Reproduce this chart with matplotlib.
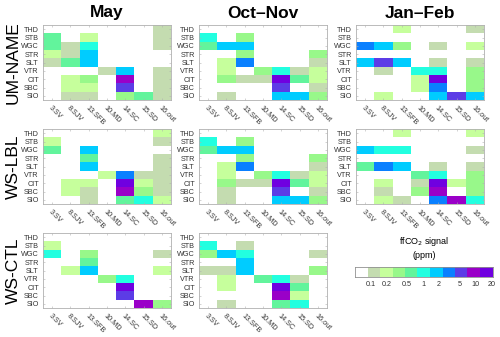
import matplotlib
matplotlib.use('Agg')
import matplotlib.pyplot as plt
import numpy as np
from matplotlib.colors import ListedColormap, BoundaryNorm

plt.rcParams['font.family'] = ['Liberation Sans', 'DejaVu Sans']

# Sites (rows) and regions (columns)
sites = ['THD', 'STB', 'WGC', 'STR', 'SLT', 'VTR', 'CIT', 'SBC', 'SIO']
regions = ['3.SV', '8.SJV', '13.SFB', '10.MD', '14.SC', '15.SD', '16.out']
seasons = ['May', 'Oct\u2013Nov', 'Jan\u2013Feb']
models = ['UM-NAME', 'WS-LBL', 'WS-CTL']

# ffCO2 signal (ppm), estimated from the colour classes
um_may = [[0, 0, 0, 0, 0, 0, .12],
          [.6, 0, .2, 0, 0, 0, .12],
          [.6, .12, 1, 0, 0, 0, .12],
          [.2, .12, 1.8, 0, 0, 0, 0],
          [.12, .6, 1.8, 0, 0, 0, 0],
          [0, 0, 0, .12, 1.8, 0, .12],
          [0, .2, .35, 0, 9, 0, .12],
          [0, .2, .2, 0, 5, 0, .12],
          [0, .12, .12, 0, .35, .6, .12]]
um_oct = [[0, 0, 0, 0, 0, 0, 0],
          [1, 0, .35, 0, 0, 0, 0],
          [.6, 1.8, 1.8, 0, 0, 0, 0],
          [0, 0, .35, 0, 0, 0, .35],
          [0, .2, 3, 0, 0, 0, .12],
          [0, .2, 0, .35, 1, .12, .2],
          [0, .35, .12, .12, 15, .6, .2],
          [0, 0, 0, 0, 5, 0, .12],
          [0, .12, 0, 0, 1.8, 1.8, .35]]
um_jan = [[0, 0, .2, 0, 0, 0, .12],
          [0, 0, 0, 0, 0, 0, 0],
          [3, 1.8, .35, 0, .12, 0, .2],
          [0, 0, 0, 0, 0, 0, 0],
          [1.8, 5, 1.8, 0, .12, 0, .12],
          [0, .12, 0, 1, 1, 0, .35],
          [0, 0, 0, .2, 15, 0, .35],
          [0, 0, 0, .2, 3, 0, .35],
          [0, .2, 0, 0, 1.8, 5, 1.8]]
lbl_may = [[0, 0, 0, 0, 0, 0, .2],
           [.2, 0, 0, 0, 0, 0, .12],
           [.6, 0, 1.8, 0, 0, 0, 0],
           [0, 0, .6, 0, 0, 0, .12],
           [0, 0, 1.8, 0, 0, 0, .12],
           [0, 0, 0, .2, 3, .12, .12],
           [0, .2, .2, 0, 15, .2, .12],
           [0, .2, .12, 0, 9, .35, .12],
           [0, 0, .12, 0, .6, 1, .2]]
lbl_oct = [[0, 0, 0, 0, 0, 0, 0],
           [1, 0, .35, 0, 0, 0, 0],
           [.6, 1.8, 1.8, 0, 0, 0, 0],
           [0, 0, .35, 0, 0, 0, .35],
           [0, .2, 3, 0, 0, 0, .12],
           [0, .2, 0, .35, 1, .12, .2],
           [0, .35, .12, .12, 15, .6, .2],
           [0, .12, 0, 0, 5, 0, .12],
           [0, .12, 0, 0, 1.8, 1.8, .35]]
lbl_jan = [[0, 0, .2, 0, 0, 0, .2],
           [0, 0, 0, 0, 0, 0, 0],
           [1.8, 1, 1, 0, 0, 0, .12],
           [0, 0, 0, 0, 0, 0, 0],
           [.6, 3, 1.8, 0, .12, 0, .12],
           [0, 0, 0, .6, 1, 0, .35],
           [0, .2, 0, .12, 15, .2, .35],
           [0, .12, 0, .35, 9, 0, .35],
           [0, .2, .12, 0, 3, 9, 1]]
ctl_may = [[0, 0, 0, 0, 0, 0, 0],
           [.2, 0, 0, 0, 0, 0, 0],
           [1, 0, .35, 0, 0, 0, .12],
           [0, 0, .6, 0, 0, 0, 0],
           [0, .2, 1.8, 0, 0, 0, .2],
           [0, 0, 0, .35, 1, 0, 0],
           [0, 0, 0, 0, 15, 0, 0],
           [0, 0, 0, 0, 5, 0, 0],
           [0, 0, 0, 0, 0, 9, .35]]
ctl_oct = [[0, 0, 0, 0, 0, 0, 0],
           [1, 0, .12, 0, 0, 0, 0],
           [.35, 1.8, 1, 0, 0, 0, .12],
           [0, 0, 1.8, 0, 0, 0, 0],
           [.12, .12, 1.8, 0, 0, 0, .35],
           [0, .2, 0, .6, 1, .12, 0],
           [0, .2, 0, 0, 15, .6, 0],
           [0, 0, 0, 0, 9, .2, 0],
           [0, .12, 0, 0, .6, 1, 0]]

panels = [[um_may, um_oct, um_jan],
          [lbl_may, lbl_oct, lbl_jan],
          [ctl_may, ctl_oct, None]]

# colour classes
class_colors = ['#ffffff', '#c4dcb0', '#c6ff9c', '#98f88a', '#62f49c', '#22ffe0',
                '#00ccff', '#0a80ff', '#5c3ce6', '#9a00c8', '#7000e0']
class_bounds = [0.051, 0.09, 0.154, 0.268, 0.458, 0.78, 1.35, 2.35, 4.0, 6.9, 12.2, 21.2]
cbar_ticks = [0.1, 0.2, 0.5, 1, 2, 5, 10, 20]
cbar_ticklabels = ['0.1', '0.2', '0.5', '1', '2', '5', '10', '20']

cmap = ListedColormap(class_colors)
norm = BoundaryNorm([0] + class_bounds[1:], cmap.N)

W, H = 500, 337
fig = plt.figure(figsize=(W / 100, H / 100), dpi=100)

def px_axes(x, y, w, h):
    return fig.add_axes([x / W, 1 - (y + h) / H, w / W, h / H])

lefts = [43, 199, 356]
tops = [25, 129, 233]
pw, ph = 128, 75
frame = '#b0b0b0'

for i in range(3):
    for j in range(3):
        data = panels[i][j]
        if data is None:
            continue
        ax = px_axes(lefts[j], tops[i], pw, ph)
        ax.imshow(np.array(data), cmap=cmap, norm=norm, aspect='auto',
                  interpolation='nearest')
        ax.set_yticks(range(len(sites)))
        ax.set_yticklabels(sites, fontsize=5.2, color='#333333')
        ax.set_xticks(range(len(regions)))
        ax.set_xticklabels(regions, fontsize=5.2, color='#333333', rotation=-45,
                           ha='left', va='top', rotation_mode='anchor')
        ax.tick_params(direction='in', length=1.5, width=0.4, color=frame,
                       top=True, right=True, pad=3)
        for s in ax.spines.values():
            s.set_color(frame)
            s.set_linewidth(0.6)

for j, t in enumerate(seasons):
    fig.text((lefts[j] + pw / 2) / W, 1 - 13 / H, t, ha='center', va='center',
             fontsize=12.5, fontweight='bold')
for i, m in enumerate(models):
    fig.text(13 / W, 1 - (tops[i] + ph / 2) / H, m, ha='center', va='center',
             rotation=90, fontsize=12.5)

# colour bar
cax = px_axes(355, 267, 138, 10)
cax.set_xscale('log')
for k in range(len(class_colors)):
    cax.axvspan(class_bounds[k], class_bounds[k + 1], color=class_colors[k], lw=0)
cax.set_xlim(class_bounds[0], class_bounds[-1])
cax.set_ylim(0, 1)
cax.set_yticks([])
cax.set_xticks(cbar_ticks)
cax.set_xticklabels(cbar_ticklabels, fontsize=5.2, color='#333333')
cax.minorticks_off()
cax.tick_params(axis='x', length=0, pad=3)
for s in cax.spines.values():
    s.set_color('#909090')
    s.set_linewidth(0.6)
fig.text(424 / W, 1 - 241 / H, 'ffCO$_2$ signal', ha='center', va='center', fontsize=6.5)
fig.text(424 / W, 1 - 256 / H, '(ppm)', ha='center', va='center', fontsize=6.5)

fig.savefig('out.png', dpi=100)
